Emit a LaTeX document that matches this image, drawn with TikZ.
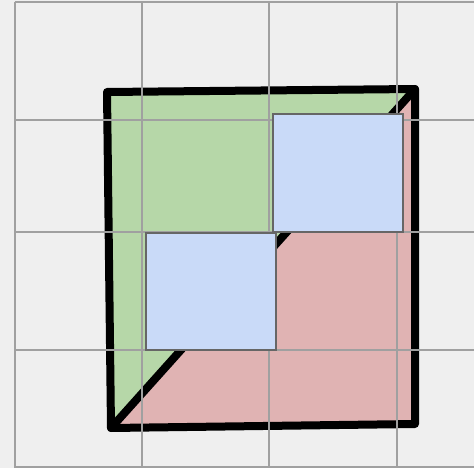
\documentclass[tikz,border=0pt]{standalone}
\usepackage{xcolor}
\usepackage{tikz}

\definecolor{bgcol}{HTML}{EFEFEF}
\definecolor{gridcol}{HTML}{A0A0A0}
\definecolor{greencol}{HTML}{B6D7A8}
\definecolor{redcol}{HTML}{E0B3B3}
\definecolor{bluecol}{HTML}{C9DAF8}
\definecolor{edgecol}{HTML}{666666}

\begin{document}
\begin{tikzpicture}[
  x=1pt, y=-1pt,
  gridline/.style={draw=gridcol, line width=2pt},
  outline/.style={draw=black, line width=8pt, line join=round, line cap=round},
  tile/.style={fill=bluecol, draw=edgecol, line width=1.6pt}
]
% background
\fill[bgcol] (0,0) rectangle (474,468);
\useasboundingbox (0,0) rectangle (474,468);

% corners of the big square
\coordinate (tl) at (107,92);
\coordinate (tr) at (415,89);
\coordinate (br) at (415,424);
\coordinate (bl) at (111,428);

% two halves
\fill[greencol] (tl) -- (tr) -- (bl) -- cycle;
\fill[redcol] (tr) -- (br) -- (bl) -- cycle;

% outline and diagonal
\draw[outline] (tl) -- (tr) -- (br) -- (bl) -- cycle;
\draw[outline] (bl) -- (tr);

% grid
\foreach \gx in {14.7, 142, 269, 396.7}
  \draw[gridline] (\gx,2) -- (\gx,468);
\foreach \gy in {2, 119.7, 232.3, 350, 467.3}
  \draw[gridline] (14.7,\gy) -- (474,\gy);

% blue tiles
\draw[tile] (146,233) rectangle (276,350);
\draw[tile] (273,114) rectangle (403,232);

\end{tikzpicture}
\end{document}
